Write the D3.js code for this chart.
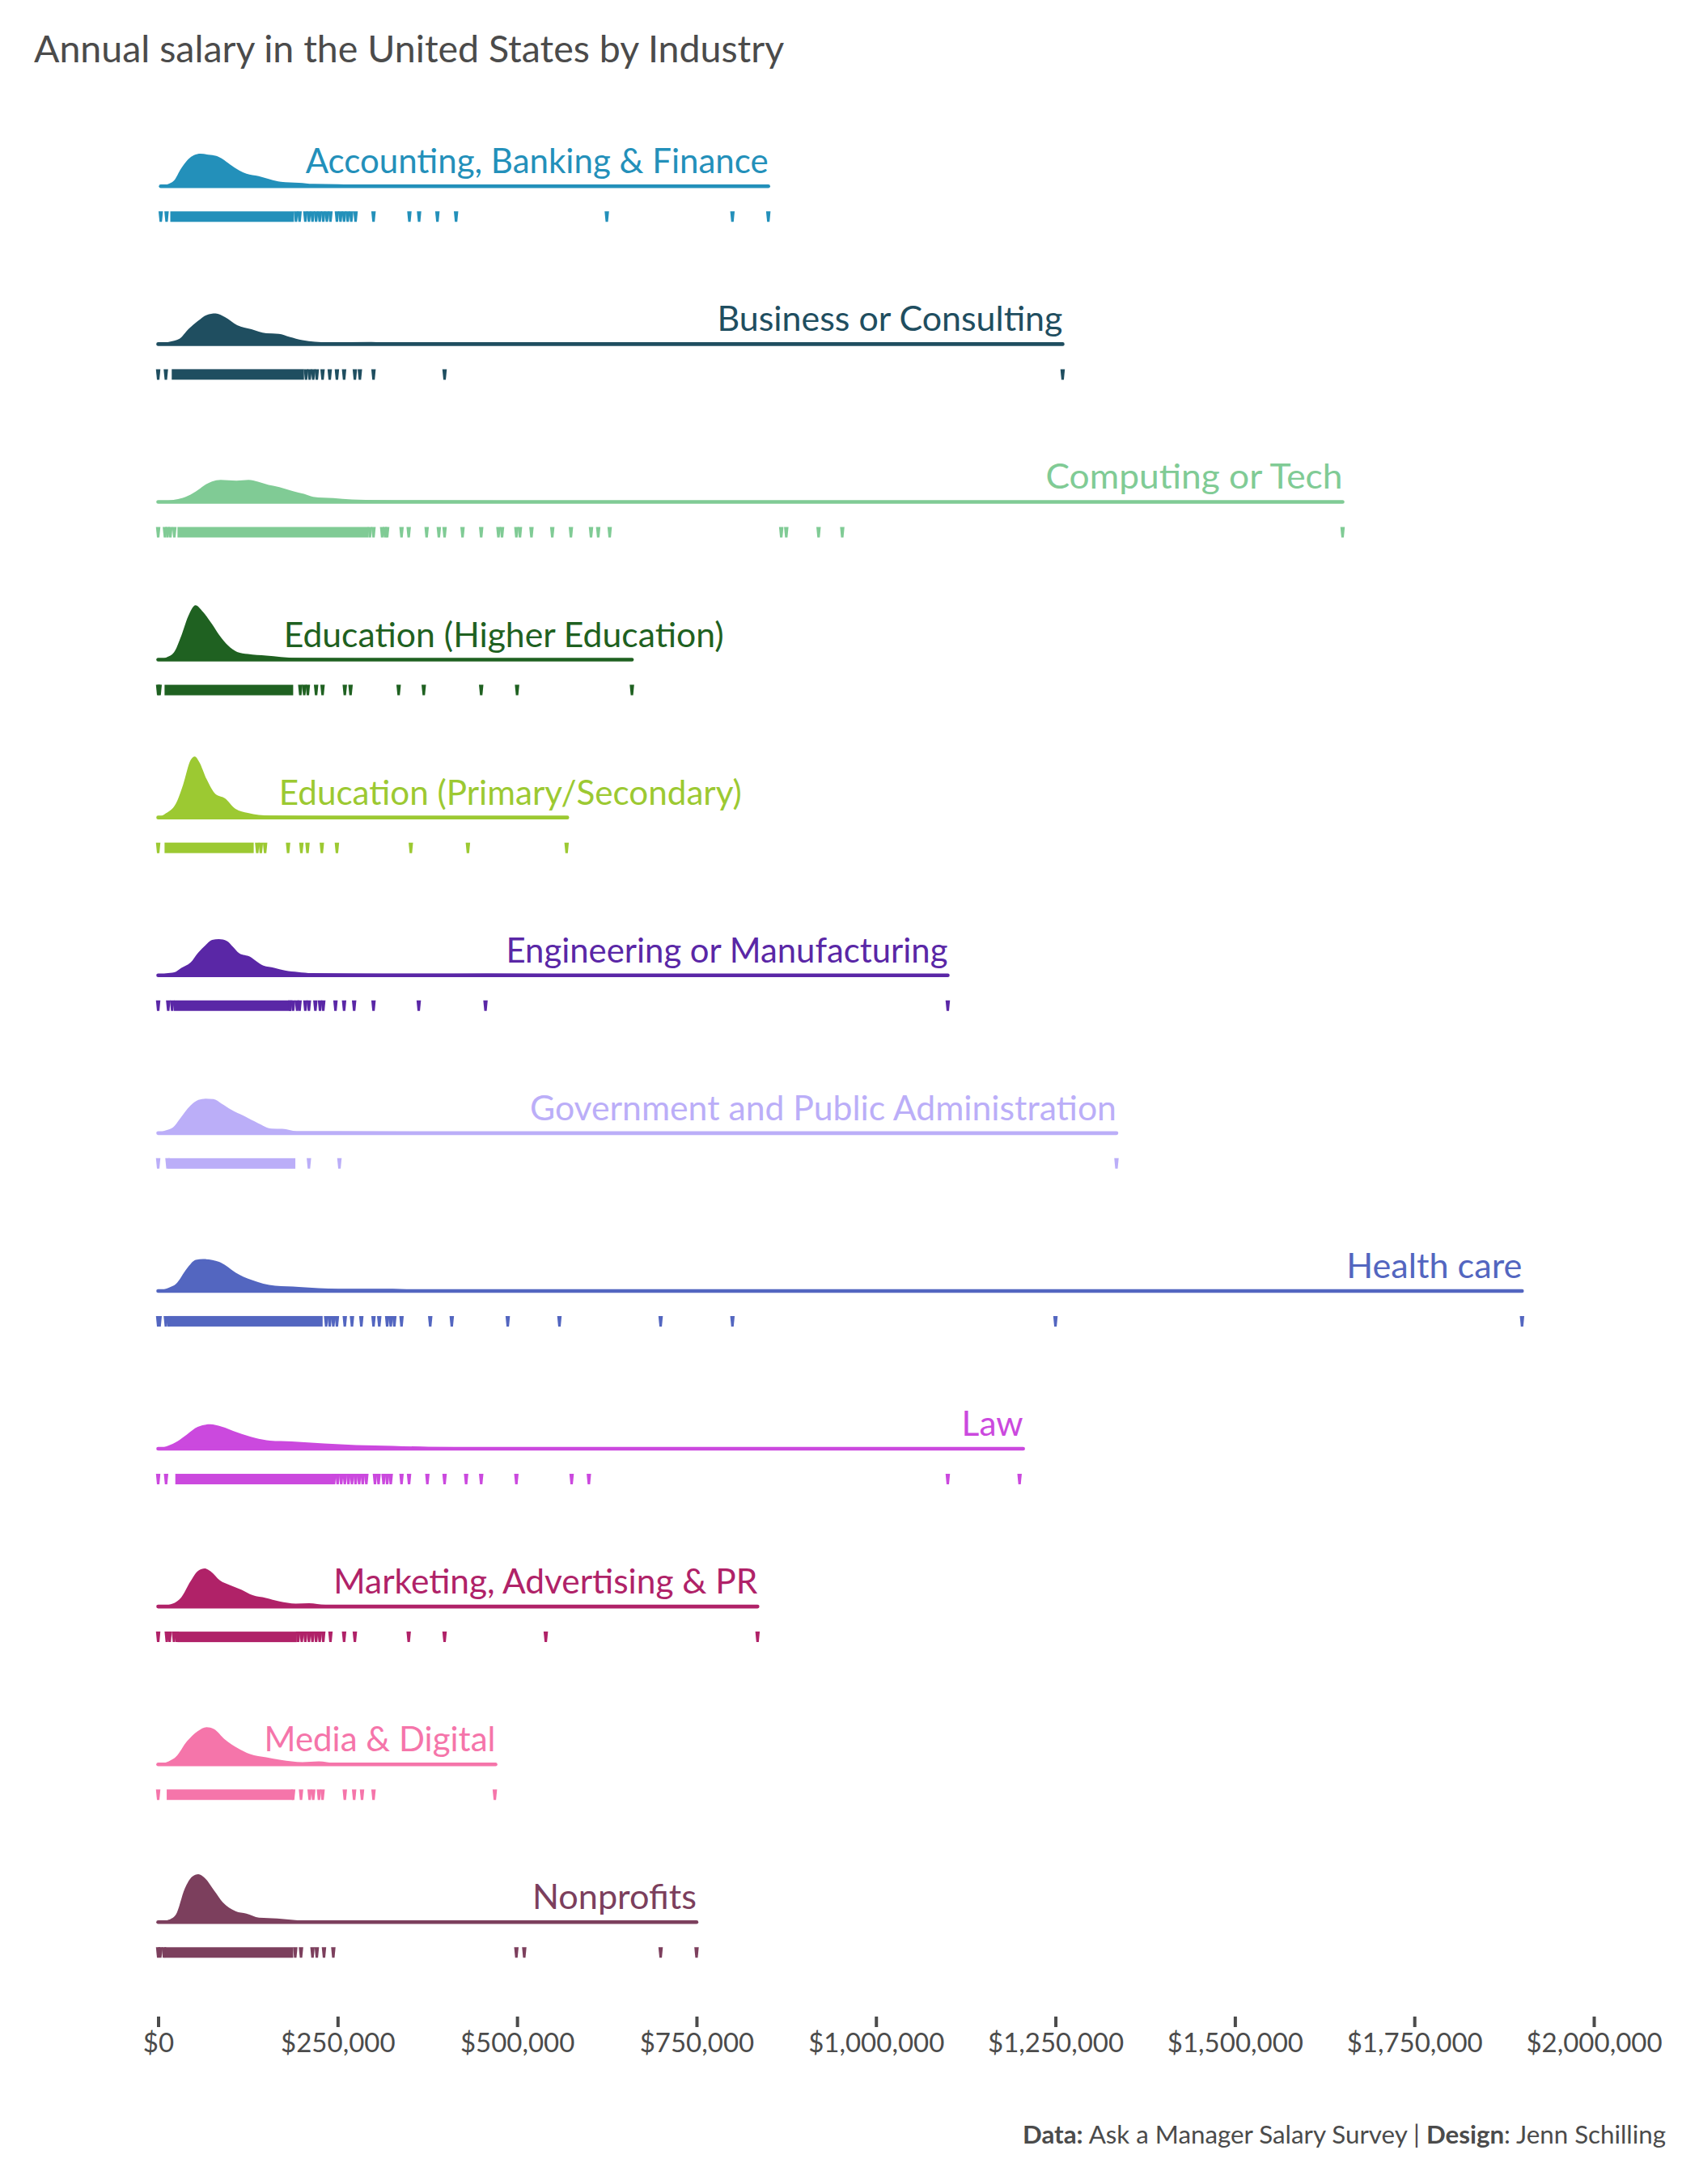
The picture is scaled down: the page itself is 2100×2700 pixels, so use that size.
<!DOCTYPE html>
<html>
<head>
<meta charset="utf-8">
<title>Annual salary in the United States by Industry</title>
<script src="https://cdn.jsdelivr.net/npm/d3@7"></script>
<style>
    body { margin: 0; background: #fff; }
    text { font-family: Lato, "Open Sans", sans-serif; }
</style>
</head>
<body>
<div id="chart"></div>
<script>
var industries = ['Accounting, Banking & Finance', 'Business or Consulting', 'Computing or Tech',
    'Education (Higher Education)', 'Education (Primary/Secondary)', 'Engineering or Manufacturing',
    'Government and Public Administration', 'Health care', 'Law', 'Marketing, Advertising & PR',
    'Media & Digital', 'Nonprofits'];
var colors = ['#2390ba', '#1f4e60', '#80cb95', '#1f6121', '#9cc932', '#5a27a6',
    '#bbaef8', '#5366c0', '#cb49de', '#b02268', '#f575aa', '#7c3f5d'];
var xTicks = [0, 250000, 500000, 750000, 1000000, 1250000, 1500000, 1750000, 2000000];

// density curves: [salary, density x 1e-6]
var accountingDensity = [[3600,0],[14700,.6],[22000,1.4],[32000,4.4],[42000,6.7],[50000,7.7],[59000,8.07],[70000,7.8],[81000,7.5],[90000,6.7],[100000,5.4],[113000,3.9],[123000,3.1],[140000,2.5],[156000,1.7],[171000,1.1],[196000,.87],[216000,.6],[251000,.53],[281000,.27],[352000,.2],[850000,0]];
var businessDensity = [[0,0],[14700,.53],[29800,1.33],[42000,3.67],[55000,5.67],[67500,7.2],[80000,7.6],[93000,6.67],[110000,4.67],[130000,3.67],[150600,2.67],[168000,2.53],[183000,1.8],[201000,1],[236000,.47],[297000,.53],[327000,.27],[402000,.2],[1260000,0]];
var computingDensity = [[0,0],[24400,.6],[37600,1.2],[52600,2.6],[64000,4.07],[75000,5.07],[87000,5.47],[109000,5.27],[126000,5.47],[139000,5],[154000,4.2],[169000,3.67],[188000,2.67],[203000,2],[216000,1.27],[244000,.93],[270000,.6],[308000,.47],[364000,.4],[477000,.3],[1650000,0]];
var higherEdDensity = [[0,0],[12000,.6],[22000,1.8],[32000,5.8],[42000,10.8],[52000,13.47],[62500,11.8],[75000,8.8],[85000,6.13],[97700,3.47],[110000,1.93],[125000,1.4],[150600,1],[171000,.67],[201000,.4],[660000,0]];
var primaryEdDensity = [[0,0],[8700,.8],[24800,3.47],[34800,8.13],[45000,14.13],[51000,15.07],[57000,13.8],[67500,9.47],[80000,5.8],[92700,4.8],[107800,2.13],[125000,1.13],[155600,.47],[201000,.4],[301000,.3],[570000,0]];
var engineeringDensity = [[0,0],[11000,.47],[22500,.73],[32000,1.8],[45000,3.13],[56000,5.67],[66000,7.47],[75000,8.73],[84500,8.93],[96000,8.47],[103000,7.27],[113000,5.47],[128000,4.6],[137000,3.47],[146600,2.4],[161600,1.87],[176600,1.2],[195000,.8],[214000,.53],[270000,.47],[364000,.4],[458000,.47],[552000,.33],[1100000,0]];
var governmentDensity = [[0,0],[9400,.6],[20700,1.4],[30000,3.47],[45000,6.8],[56000,8.2],[66000,8.53],[77000,8.4],[88000,7.33],[101500,5.8],[120000,4.2],[139000,2.47],[158000,1.13],[173000,1.07],[193000,.47],[252000,.47],[400000,.3],[1335000,0]];
var healthDensity = [[0,0],[14700,.8],[24800,1.73],[40000,5.53],[52400,7.67],[62500,7.87],[85000,7.2],[95000,6.2],[107800,4.53],[130000,2.73],[163000,1.27],[196000,1],[251000,.53],[327000,.53],[352000,.33],[800000,.25],[1900000,0]];
var lawDensity = [[0,0],[14700,.8],[27000,1.87],[40000,3.53],[55000,5.4],[72600,6.07],[87700,5.53],[110000,4.07],[135500,2.67],[155600,2],[186000,1.8],[231000,1.33],[276000,.93],[327000,.73],[377000,.47],[452000,.4],[1205000,0]];
var marketingDensity = [[0,0],[22500,.87],[32000,2.2],[45000,6.2],[56000,8.87],[65000,9.4],[73000,8.73],[86000,6.47],[99600,5.33],[116500,4.13],[131500,2.8],[150000,2.13],[169000,1.27],[191600,.73],[210000,.8],[233000,.4],[289000,.33],[835000,0]];
var mediaDensity = [[0,0],[14700,.73],[24800,1.87],[40000,5.67],[55000,8.2],[67500,9.2],[77600,8.73],[92700,6.2],[110000,4.07],[128000,2.53],[150600,1.73],[171000,1.07],[201000,.53],[223600,.73],[246000,.33],[312000,.33],[470000,0]];
var nonprofitDensity = [[0,0],[14700,.6],[24800,1.93],[37000,8.27],[47400,11.27],[56000,11.87],[65000,10.93],[77600,7.93],[90000,4.93],[107800,2.73],[123000,2.13],[140500,1.13],[165700,.93],[191000,.53],[211000,.33],[750000,0]];

// salaries where the rug ticks overlap into one solid run: [from, to]
var accountingRun = [20000, 186000];
var businessRun = [22000, 200000];
var computingRun = [30000, 290000];
var higherEdRun = [12000, 185000];
var primaryEdRun = [12000, 130000];
var engineeringRun = [25000, 182000];
var governmentRun = [17000, 188000];
var healthRun = [17000, 226000];
var lawRun = [27000, 241000];
var marketingRun = [30000, 190000];
var mediaRun = [15000, 185000];
var nonprofitRun = [12000, 185000];

// the single rug ticks around those runs
var accountingRug = [3600,11700,192000,197000,205000,210000,215000,220000,225000,230000,235000,240000,249000,254000,259000,264000,269000,275000,300000,350000,363500,389000,415000,625000,800000,850000];
var businessRug = [0,10700,206000,211000,216000,221000,229000,239000,249000,259000,274000,281000,300000,399000,1260000];
var computingRug = [0,9400,13000,17000,22500,295000,300000,312000,316000,319000,339000,349000,374000,391000,399000,424000,450000,474000,479000,499000,504000,520000,549000,575000,603000,613000,629000,868000,875000,920000,953000,1650000];
var higherEdRug = [0,2000,198000,203500,208500,220000,229000,260000,268000,335000,370000,450000,500000,660000];
var primaryEdRug = [0,138000,143000,149000,181000,199500,208000,228000,249000,352000,431500,569000];
var engineeringRug = [0,14000,19500,184000,188000,193500,197000,205000,210000,219000,225500,230000,247000,259000,273000,300000,363000,456000,1100000];
var governmentRug = [0,13000,210000,252500,1335000];
var healthRug = [0,2000,10700,14700,234000,239000,244000,249000,260000,270000,283000,300000,308000,319000,324000,329000,339000,379000,409000,487000,559000,700000,800000,1250000,1900000];
var lawRug = [0,11000,245000,250000,255000,260000,265000,270000,275000,280000,285000,290000,302000,307000,314000,319000,324000,339000,349500,375000,399000,429000,450000,499000,576000,600000,1100000,1200000];
var marketingRug = [0,12000,16000,22000,26000,195000,200000,205000,210000,215000,220000,225000,230000,240000,259000,274000,349000,399000,540000,835000];
var mediaRug = [0,188000,199000,211000,216000,224000,229000,260000,273000,284000,300000,469000];
var nonprofitRug = [0,3000,8000,191000,199000,215000,221000,231000,244000,499000,510000,700000,750000];

var densities = [accountingDensity, businessDensity, computingDensity, higherEdDensity, primaryEdDensity, engineeringDensity,
    governmentDensity, healthDensity, lawDensity, marketingDensity, mediaDensity, nonprofitDensity];
var runs = [accountingRun, businessRun, computingRun, higherEdRun, primaryEdRun, engineeringRun,
    governmentRun, healthRun, lawRun, marketingRun, mediaRun, nonprofitRun];
var rugs = [accountingRug, businessRug, computingRug, higherEdRug, primaryEdRug, engineeringRug,
    governmentRug, healthRug, lawRug, marketingRug, mediaRug, nonprofitRug];

var textColor = '#4b4b4b';
var rugTop = 31, rugBottom = 44, halfTick = 2.75, halfTip = 1.5;
// Lato runs a little different from the original face, so labels get fitted to these widths
var labelWidths = [572, 427, 367, 544, 572, 546, 725, 217, 76, 524, 286, 203];

var svg = d3.select('#chart').append('svg')
    .attr('width', 2100)
    .attr('height', 2700);

var xScale = d3.scaleLinear().domain([0, 2000000]).range([195.5, 1970]);
var rowScale = d3.scalePoint().domain(industries).range([230.3, 2376.3]);
var densityScale = d3.scaleLinear().domain([0, 16]).range([0, -80]);

var area = d3.area()
    .x(function (d) { return xScale(d[0]); })
    .y0(0)
    .y1(function (d) { return densityScale(d[1]); })
    .curve(d3.curveMonotoneX);

// most labels end at the longest salary, the two education ones would hit their peak
function labelEnd(name, maxSalary) {
    if (name === 'Education (Higher Education)') return 788000;
    if (name === 'Education (Primary/Secondary)') return 813000;
    return maxSalary;
}

var rows = svg.selectAll('.ridge')
    .data(industries)
    .enter().append('g')
    .attr('class', 'ridge')
    .attr('transform', function (d) { return 'translate(0,' + rowScale(d) + ')'; })
    .style('fill', function (d, i) { return colors[i]; })
    .style('stroke', 'none');

rows.append('path')
    .attr('d', function (d, i) { return area(densities[i]); });

rows.append('line')
    .attr('x1', function (d, i) { return xScale(densities[i][0][0]); })
    .attr('x2', function (d, i) { return xScale(d3.max(densities[i], function (p) { return p[0]; })); })
    .style('stroke', function (d, i) { return colors[i]; })
    .style('stroke-width', 4.6)
    .style('stroke-linecap', 'round');

rows.append('rect')
    .attr('x', function (d, i) { return xScale(runs[i][0]) - halfTick; })
    .attr('width', function (d, i) { return xScale(runs[i][1]) - xScale(runs[i][0]) + 2 * halfTick; })
    .attr('y', rugTop)
    .attr('height', rugBottom - rugTop);

rows.each(function (d, i) {
    d3.select(this).selectAll('.tick-mark')
        .data(rugs[i])
        .enter().append('path')
        .attr('class', 'tick-mark')
        .attr('d', function (v) {
            var x = xScale(v);
            return 'M' + (x - halfTick) + ',' + rugTop + 'L' + (x + halfTick) + ',' + rugTop +
                'L' + (x + halfTip) + ',' + rugBottom + 'L' + (x - halfTip) + ',' + rugBottom + 'Z';
        });
});

rows.append('text')
    .attr('x', function (d, i) {
        var maxSalary = d3.max(densities[i], function (p) { return p[0]; });
        return xScale(labelEnd(d, maxSalary));
    })
    .attr('y', -16)
    .attr('text-anchor', 'end')
    .attr('textLength', function (d, i) { return labelWidths[i]; })
    .attr('lengthAdjust', 'spacingAndGlyphs')
    .style('font-size', '42px')
    .text(function (d) { return d; });

var xAxis = d3.axisBottom(xScale)
    .tickValues(xTicks)
    .tickFormat(d3.format('$,'))
    .tickSize(13)
    .tickPadding(8);

var axisGroup = svg.append('g')
    .attr('class', 'axis')
    .attr('transform', 'translate(0,2493)')
    .call(xAxis);
axisGroup.select('.domain').remove();
axisGroup.selectAll('line').style('stroke', textColor).style('stroke-width', 4);
axisGroup.selectAll('text')
    .style('font-size', '33px')
    .style('font-family', 'Lato')
    .style('fill', textColor);

svg.append('text')
    .attr('x', 42)
    .attr('y', 77)
    .style('font-size', '46.5px')
    .style('fill', textColor)
    .text('Annual salary in the United States by Industry');

var caption = svg.append('text')
    .attr('x', 2059)
    .attr('y', 2650)
    .attr('text-anchor', 'end')
    .style('font-size', '31.3px')
    .style('fill', textColor);
caption.append('tspan').style('font-weight', 700).text('Data:');
caption.append('tspan').text(' Ask a Manager Salary Survey | ');
caption.append('tspan').style('font-weight', 700).text('Design');
caption.append('tspan').text(': Jenn Schilling');
</script>
</body>
</html>
